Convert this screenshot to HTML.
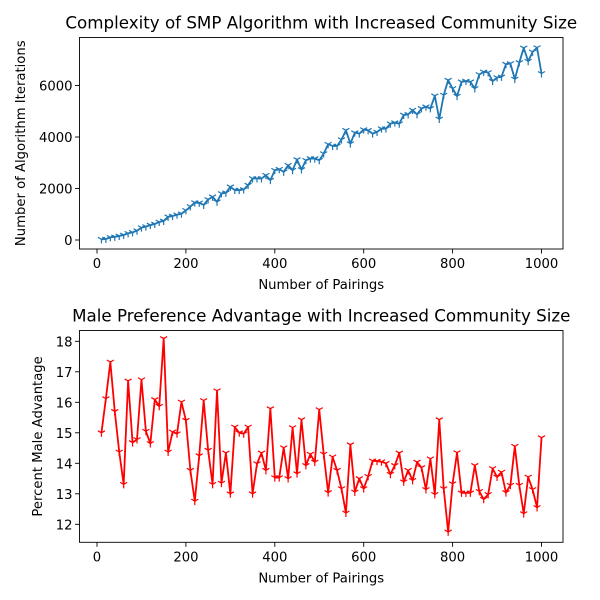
<!DOCTYPE html>
<html><head><meta charset="utf-8"><style>
html,body{margin:0;padding:0;background:#fff;}
svg{display:block;font-family:"DejaVu Sans","Liberation Sans",sans-serif;}
</style></head><body>
<svg id="chart" width="600" height="600" viewBox="0 0 600 600"></svg>
<script>
const pairings = [];
for (let i = 1; i <= 100; i++) pairings.push(i * 10);
const iterations = [26,40,103,120,155,194,258,297,361,480,520,580,620,700,740,900,930,980,1020,1150,
1300,1450,1440,1360,1574,1677,1483,1806,1832,2065,1940,1935,1962,2129,2387,2387,2387,2516,2323,2710,
2749,2645,2904,2710,3123,2736,3097,3162,3162,3097,3355,3717,3652,3652,3897,4259,3742,4168,4130,4285,
4259,4130,4194,4323,4323,4516,4556,4516,4852,4878,5045,4878,5110,5174,5110,5600,4697,5627,6207,5884,
5587,6143,6168,6143,5884,6427,6530,6504,6168,6310,6336,6827,6853,6246,6891,7459,6943,7305,7471,6465];
const advantage = [15.0,16.12,17.32,15.70,14.37,13.31,16.70,14.68,14.78,16.74,15.05,14.65,16.09,15.87,18.09,14.37,15.03,14.97,16.01,15.41,
13.77,12.76,14.25,16.06,14.43,13.31,16.38,13.35,14.34,13.0,15.19,15.0,14.97,15.19,13.0,13.99,14.34,13.77,15.79,13.53,
13.53,14.51,13.50,15.17,13.66,15.43,13.93,14.30,14.04,15.76,14.30,13.04,14.21,13.77,13.17,12.37,14.61,13.06,13.5,13.17,
13.57,14.08,14.07,14.05,14.0,13.64,13.93,14.34,13.39,13.77,13.44,14.04,13.86,13.14,14.15,12.98,15.43,13.17,11.75,13.33,
14.35,13.03,13.03,13.03,13.93,13.08,12.82,12.98,13.83,13.55,13.71,13.04,13.28,14.56,13.28,12.35,13.55,13.14,12.55,14.84];
const xTicks = [0,200,400,600,800,1000];
const yTicksTop = [0,2000,4000,6000];
const yTicksBottom = [12,13,14,15,16,17,18];

const NS = "http://www.w3.org/2000/svg";
const svg = document.getElementById('chart');
function mk(tag, attrs, parent) {
  const e = document.createElementNS(NS, tag);
  for (const k in attrs) e.setAttribute(k, attrs[k]);
  (parent || svg).appendChild(e);
  return e;
}
function txt(s, attrs, parent) { const t = mk('text', attrs, parent); t.textContent = s; return t; }

function panel(cfg) {
  const g = mk('g', {});
  
  
  const L = 79.5, R = 563, T = cfg.top, B = cfg.bottom;
  const xs = v => 97 + (v) * 0.4445;
  const ys = v => cfg.y0px - (v - cfg.y0) * cfg.ypu;
  const ti = txt(cfg.title, {x: (L + R) / 2, y: T - 9, 'text-anchor': 'middle', 'font-size': 16.7, fill: '#000'}, g);
  
  
  xTicks.forEach(v => {
    const x = xs(v);
    mk('line', {x1: x, x2: x, y1: B, y2: B + 4.5, stroke: '#000', 'stroke-width': 0.9}, g);
    const t = txt(String(v), {x: x, y: B + 19, 'text-anchor': 'middle', 'font-size': 13.2, fill: '#000'}, g);
    
    
  });
  cfg.yTicks.forEach(v => {
    const y = ys(v);
    mk('line', {x1: L - 4.5, x2: L, y1: y, y2: y, stroke: '#000', 'stroke-width': 0.9}, g);
    const t = txt(String(v), {x: L - 7, y: y + 5, 'text-anchor': 'end', 'font-size': 13.2, fill: '#000'}, g);
    
    
  });
  const xl = txt('Number of Pairings', {x: (L + R) / 2, y: B + 40, 'text-anchor': 'middle', 'font-size': 13.2, fill: '#000'}, g);
  
  
  const yl = txt(cfg.ylabel, {x: 0, y: 0, 'text-anchor': 'middle', 'font-size': 13.2, fill: '#000', transform: `translate(${cfg.ylx},${(T + B) / 2}) rotate(-90)`}, g);
  
  
  const pts = pairings.map((p, i) => [xs(p), ys(cfg.data[i])]);
  const line = mk('polyline', {points: pts.map(p => p.join(',')).join(' '), fill: 'none', stroke: cfg.color, 'stroke-width': 1.8, 'stroke-linejoin': 'round'}, g);
  
  
  pts.forEach(p => {
    const [x, y] = p;
    const m = mk('path', {d: `M${x},${y}L${x},${y + 4}M${x},${y}L${x - 3.5},${y - 2}M${x},${y}L${x + 3.5},${y - 2}`, stroke: cfg.color, 'stroke-width': 1.2, fill: 'none'}, g);
    
    
  });
  const fr = mk('rect', {x: L, y: T, width: R - L, height: B - T, fill: 'none', stroke: '#000', 'stroke-width': 0.9}, g);
  
  
}

panel({name: 'complexity-chart', title: 'Complexity of SMP Algorithm with Increased Community Size', top: 37.5, bottom: 249,
  y0: 0, y0px: 240, ypu: 0.02575, yTicks: yTicksTop, data: iterations, color: '#1f77b4',
  ylabel: 'Number of Algorithm Iterations', ylx: 25});
panel({name: 'advantage-chart', title: 'Male Preference Advantage with Increased Community Size', top: 330.5, bottom: 542.3,
  y0: 12, y0px: 524.3, ypu: 30.5, yTicks: yTicksBottom, data: advantage, color: '#ff0000',
  ylabel: 'Percent Male Advantage', ylx: 42});
</script>
</body></html>
